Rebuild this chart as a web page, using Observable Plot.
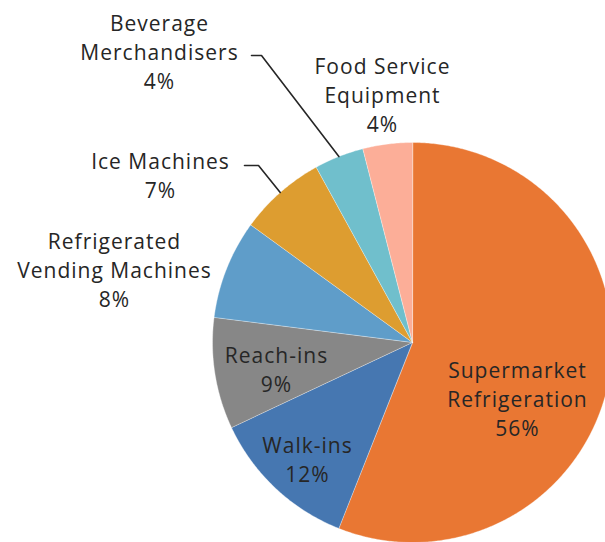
<!DOCTYPE html>
<html>
<head>
<meta charset="utf-8">
<script src="https://cdn.jsdelivr.net/npm/d3@7"></script>
<script src="https://cdn.jsdelivr.net/npm/@observablehq/plot@0.6"></script>
<style>
  html, body { margin: 0; padding: 0; background: #ffffff; }
  #chart svg { display: block; }
  #chart svg text { letter-spacing: 1px; }
</style>
</head>
<body>
<div id="chart"></div>
<script>
// ---- data ----
const categories = ["Supermarket Refrigeration", "Walk-ins", "Reach-ins", "Refrigerated Vending Machines", "Ice Machines", "Beverage Merchandisers", "Food Service Equipment"];
const shares = [56, 12, 9, 8, 7, 4, 4];
const labelLines = [["Supermarket", "Refrigeration"], ["Walk-ins"], ["Reach-ins"], ["Refrigerated", "Vending Machines"], ["Ice Machines"], ["Beverage", "Merchandisers"], ["Food Service", "Equipment"]];
const colors = ["#E97733", "#4677B1", "#878787", "#5F9DC9", "#DD9D30", "#70BFCC", "#FCAE98"];

// ---- layout (pixel space) ----
const W = 605, H = 542;
const pie = {cx: 412, cy: 342, r: 200};
const labelAt = [[517, 397], [307, 458], [276, 368], [114, 268], [160, 174], [159, 50], [382, 93]];
const leaders = {5: {start: 251, elbow: 261, y: 55}, 4: {start: 244, elbow: 258, y: 165}};

// ---- geometry derived from data ----
const total = d3.sum(shares);
let acc = 0;
const slices = categories.map((c, i) => {
  const a0 = acc / total * 2 * Math.PI;
  acc += shares[i];
  const a1 = acc / total * 2 * Math.PI;
  return {category: c, a0, a1, mid: (a0 + a1) / 2, value: shares[i], i};
});
const polar = (a, r) => [pie.cx + r * Math.sin(a), pie.cy - r * Math.cos(a)];

const slicePts = [];
for (const s of slices) {
  const n = Math.max(2, Math.ceil((s.a1 - s.a0) / (Math.PI / 360)));
  const [x0, y0] = polar(0, 0);
  slicePts.push({category: s.category, x: x0, y: y0});
  for (let k = 0; k <= n; k++) {
    const a = s.a0 + (s.a1 - s.a0) * k / n;
    const [x, y] = polar(a, pie.r);
    slicePts.push({category: s.category, x, y});
  }
}

const labels = slices.map(s => ({
  x: labelAt[s.i][0], y: labelAt[s.i][1],
  text: [...labelLines[s.i], `${s.value}%`].join("\n")
}));

const leaderPts = [];
for (const [k, L] of Object.entries(leaders)) {
  const s = slices[+k];
  const [ex, ey] = polar(s.mid, pie.r);
  leaderPts.push({id: k, x: L.start, y: L.y}, {id: k, x: L.elbow, y: L.y}, {id: k, x: ex, y: ey});
}

const chart = Plot.plot({
  width: W, height: H,
  margin: 0,
  style: {fontFamily: "'Open Sans', sans-serif", background: "#ffffff"},
  x: {domain: [0, W], range: [0, W], axis: null},
  y: {domain: [0, H], range: [0, H], axis: null},
  color: {domain: categories, range: colors},
  marks: [
    Plot.line(slicePts, {x: "x", y: "y", z: "category", fill: "category", stroke: "#ffffff", strokeWidth: 0.6, strokeOpacity: 0.6, curve: "linear-closed"}),
    Plot.line(leaderPts, {x: "x", y: "y", z: "id", stroke: "#262626", strokeWidth: 1.6}),
    Plot.text(labels, {x: "x", y: "y", text: "text", fill: "#262626", fontSize: 21, lineHeight: 1.39, textAnchor: "middle", lineAnchor: "middle"})
  ]
});
document.getElementById("chart").appendChild(chart);
</script>
</body>
</html>
